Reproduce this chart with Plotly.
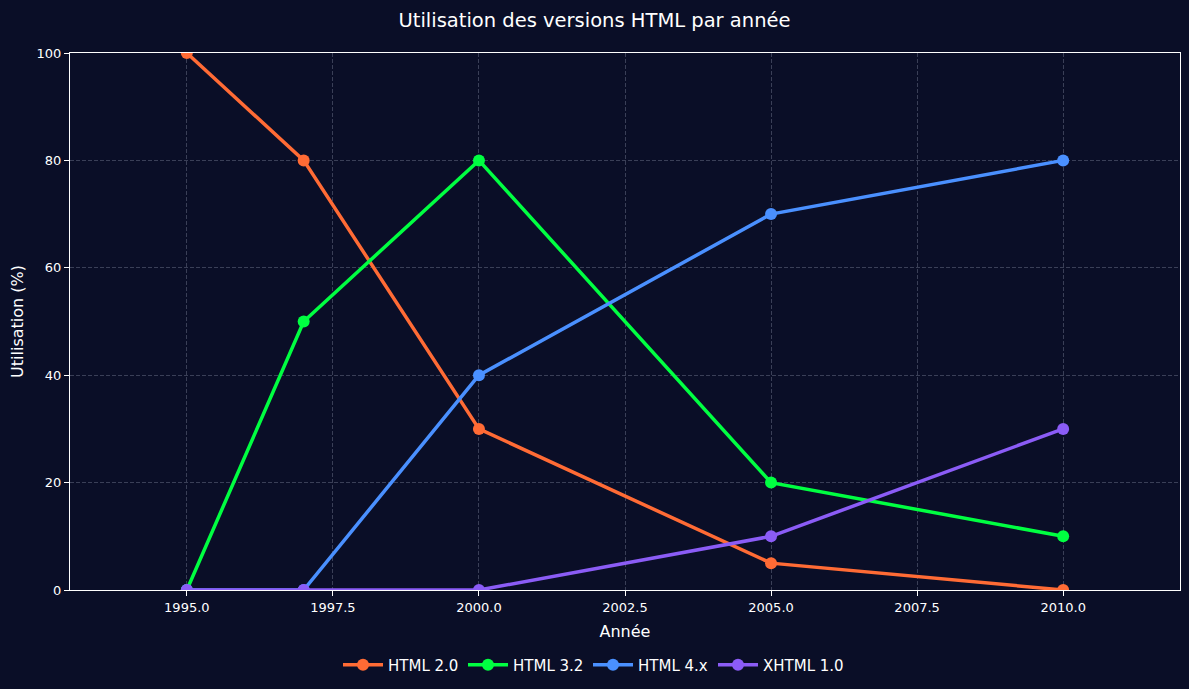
import plotly.graph_objects as go

years = [1995, 1997, 2000, 2005, 2010]
html20 = [100, 80, 30, 5, 0]
html32 = [0, 50, 80, 20, 10]
html4x = [0, 0, 40, 70, 80]
xhtml10 = [0, 0, 0, 10, 30]

series_names = ["HTML 2.0", "HTML 3.2", "HTML 4.x", "XHTML 1.0"]
series_vals = [html20, html32, html4x, xhtml10]
colors = ["#FF6B35", "#00FF41", "#4A90FF", "#8B5CF6"]

bg = "#0a0e27"
font = "DejaVu Sans"

fig = go.Figure()
for name, vals, c in zip(series_names, series_vals, colors):
    fig.add_trace(go.Scatter(
        x=years, y=vals, name=name, mode="lines+markers",
        line=dict(color=c, width=3.5),
        marker=dict(color=c, size=12),
        cliponaxis=True,
    ))
# spacer legend entry so the last label is not clipped
fig.add_trace(go.Scatter(x=[None], y=[None], name=" ", mode="lines",
                         line=dict(color="rgba(0,0,0,0)"), hoverinfo="skip"))

axis_common = dict(
    showline=True, linecolor="white", linewidth=1.2, mirror=True,
    ticks="outside", ticklen=5, tickcolor="white", tickwidth=1,
    tickfont=dict(color="white", size=13, family=font),
    showgrid=True, gridcolor="#3a3f57", griddash="4px,2px", gridwidth=1,
    zeroline=False,
)

fig.update_layout(
    width=1189, height=689,
    paper_bgcolor=bg, plot_bgcolor=bg,
    margin=dict(l=70, r=9, t=53, b=99),
    font=dict(family=font, color="white"),
    title=dict(text="Utilisation des versions HTML par année", x=0.5, xanchor="center",
               y=1 - 20 / 689, yanchor="middle", font=dict(size=19.5, color="white", family=font)),
    xaxis=dict(range=[1993, 2012], tick0=1995, dtick=2.5, tickformat=".1f",
               title=dict(text="Année", font=dict(size=16, color="white", family=font), standoff=12),
               **axis_common),
    yaxis=dict(range=[0, 100], tick0=0, dtick=20,
               title=dict(text="Utilisation (%)", font=dict(size=16, color="white", family=font), standoff=8),
               **axis_common),
    legend=dict(orientation="h", xref="container", x=338 / 1189, xanchor="left",
                yref="container", y=1 - 665 / 689, yanchor="middle",
                font=dict(size=15, color="white", family=font), bgcolor="rgba(0,0,0,0)",
                itemwidth=40, traceorder="normal", entrywidth=70, entrywidthmode="pixels"),
    showlegend=True,
)

fig.write_html("out.html")
